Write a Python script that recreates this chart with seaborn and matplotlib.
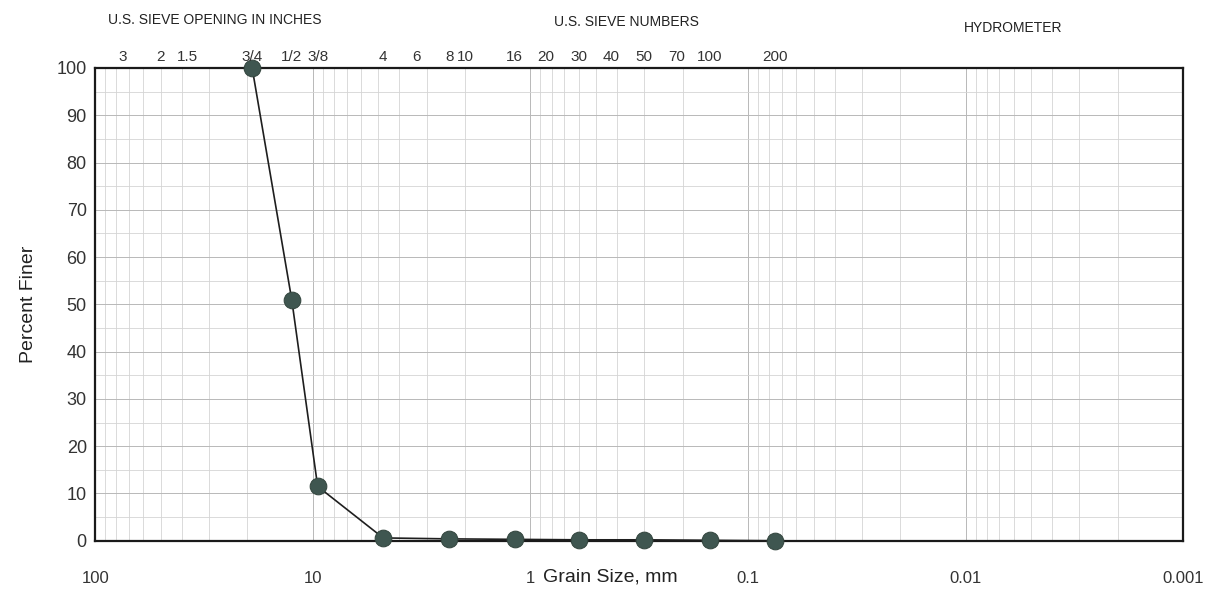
import seaborn as sns
import matplotlib.pyplot as plt
import matplotlib.ticker as mticker
import pandas as pd

# sieve results
grain_mm = [19.0, 12.5, 9.5, 4.75, 2.36, 1.18, 0.6, 0.3, 0.15, 0.075]
pct_finer = [100, 51, 11.5, 0.6, 0.4, 0.3, 0.2, 0.2, 0.1, 0.0]

# top axis labels
inch_sizes = [75, 50, 37.5, 19.0, 12.5, 9.5]
inch_labels = ['3', '2', '1.5', '3/4', '1/2', '3/8']
sieve_sizes = [4.75, 3.35, 2.36, 2.0, 1.18, 0.85, 0.6, 0.425, 0.3, 0.212, 0.15, 0.075]
sieve_labels = ['4', '6', '8', '10', '16', '20', '30', '40', '50', '70', '100', '200']

bottom_ticks = [100, 10, 1, 0.1, 0.01, 0.001]
bottom_labels = ['100', '10', '1', '0.1', '0.01', '0.001']

df = pd.DataFrame({'size': grain_mm, 'finer': pct_finer})

sns.set_style('white')
plt.rcParams['font.family'] = ['Liberation Sans', 'DejaVu Sans']

fig = plt.figure(figsize=(12.05, 5.91), dpi=100)
ax = fig.add_axes([0.079, 0.085, 0.903, 0.80])

sns.lineplot(data=df, x='size', y='finer', ax=ax, color='#1e1e1e', lw=1.2,
             marker='o', markersize=12, markerfacecolor='#3f5650',
             markeredgecolor='#34463f', sort=False, zorder=5, clip_on=False)

ax.set_xscale('log')
ax.set_xlim(100, 0.001)
ax.set_ylim(0, 100)

ax.set_xticks(bottom_ticks)
ax.set_xticklabels(bottom_labels)
ax.xaxis.set_minor_locator(mticker.LogLocator(base=10, subs=range(2, 10)))
ax.xaxis.set_minor_formatter(mticker.NullFormatter())
ax.set_yticks(range(0, 101, 10))
ax.yaxis.set_minor_locator(mticker.MultipleLocator(5))

ax.grid(which='major', color='#b8b8b8', lw=0.7)
ax.grid(which='minor', color='#d4d4d4', lw=0.6)
ax.tick_params(axis='x', which='both', length=0, pad=22, labelsize=12, colors='#333333')
ax.tick_params(axis='y', which='both', length=0, pad=6, labelsize=13, colors='#333333')

for s in ax.spines.values():
    s.set_color('#1a1a1a')
    s.set_linewidth(1.6)

ax.set_xlabel('')
ax.set_ylabel('Percent Finer', fontsize=14, color='#222222', labelpad=14)
ax.text(0.412, -0.077, 'Grain Size, mm', transform=ax.transAxes,
        fontsize=14, color='#222222', va='center')

top = ax.twiny()
top.set_xscale('log')
top.set_xlim(ax.get_xlim())
top.set_xticks(inch_sizes + sieve_sizes)
top.set_xticklabels(inch_labels + sieve_labels)
top.xaxis.set_minor_locator(mticker.NullLocator())
top.tick_params(axis='x', length=0, pad=3, labelsize=11, colors='#333333')
for s in top.spines.values():
    s.set_visible(False)

fig.text(0.178, 0.967, 'U.S. SIEVE OPENING IN INCHES', fontsize=10, color='#222222', ha='center', va='center')
fig.text(0.52, 0.963, 'U.S. SIEVE NUMBERS', fontsize=10, color='#222222', ha='center', va='center')
fig.text(0.841, 0.953, 'HYDROMETER', fontsize=10, color='#222222', ha='center', va='center')

fig.savefig('out.png', dpi=100)
